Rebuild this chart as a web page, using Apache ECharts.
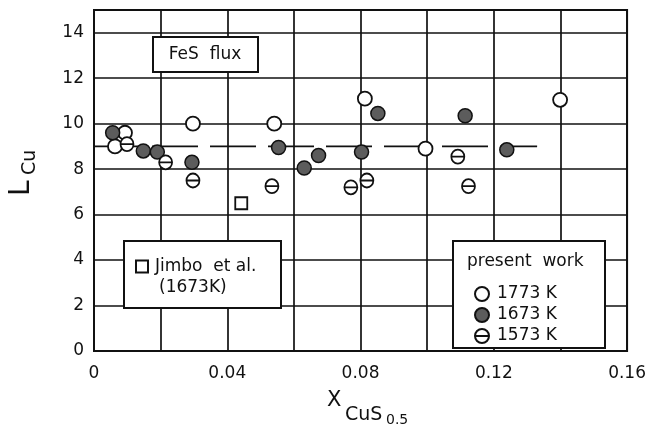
<!DOCTYPE html>
<html>
<head>
<meta charset="utf-8">
<script src="https://cdn.jsdelivr.net/npm/echarts@6/dist/echarts.min.js"></script>
<style>
  html, body { margin: 0; padding: 0; background: #fff; }
  #chart { width: 649px; height: 432px; }
</style>
</head>
<body>
<div id="chart"></div>
<script>
// present work, 1773 K (open circles)
var data1773 = [[0.0063, 9.0], [0.0093, 9.6], [0.0297, 10.0], [0.0541, 10.0], [0.0813, 11.1], [0.0995, 8.9], [0.1399, 11.05]]
// present work, 1673 K (filled circles)
var data1673 = [[0.0056, 9.6], [0.0148, 8.8], [0.019, 8.75], [0.0294, 8.3], [0.0554, 8.95], [0.0631, 8.05], [0.0674, 8.6], [0.0803, 8.75], [0.0852, 10.45], [0.1114, 10.35], [0.1239, 8.85]]
// present work, 1573 K (barred circles)
var data1573 = [[0.0099, 9.1], [0.0215, 8.3], [0.0297, 7.5], [0.0534, 7.25], [0.0771, 7.2], [0.0819, 7.5], [0.1092, 8.55], [0.1124, 7.25]]
// Jimbo et al. (1673 K)
var dataJimbo = [[0.0442, 6.5]]
// horizontal reference line at L = 9
var refLine = [[0, 9], [0.133, 9]]

var font = 'DejaVu Sans'
var barCircle = 'path://M10,0 A10,10 0 1,1 9.99,0 Z M0,10 L20,10'

var chart = echarts.init(document.getElementById('chart'))

var option = {
  backgroundColor: '#fff',
  animation: false,
  grid: {
    left: 94,
    right: 20,
    top: 10,
    bottom: 81,
    show: true,
    borderColor: '#111',
    borderWidth: 2
  },
  xAxis: {
    type: 'value',
    min: 0,
    max: 0.16,
    interval: 0.02,
    axisLine: { show: true, lineStyle: { color: '#111', width: 2 } },
    axisTick: { show: false },
    splitLine: { show: true, lineStyle: { color: '#111', width: 1.7 } },
    axisLabel: {
      color: '#111',
      fontFamily: font,
      fontSize: 17,
      margin: 14,
      formatter: function (v) {
        var k = Math.round(v / 0.02)
        if (k % 2 !== 0) return ''
        return k === 0 ? '0' : (k * 0.02).toFixed(2)
      }
    }
  },
  yAxis: {
    type: 'value',
    min: 0,
    max: 15,
    interval: 2,
    axisLine: { show: true, lineStyle: { color: '#111', width: 2 } },
    axisTick: { show: false },
    splitLine: { show: true, lineStyle: { color: '#111', width: 1.7 } },
    axisLabel: {
      color: '#111',
      fontFamily: font,
      fontSize: 17,
      margin: 10,
      showMaxLabel: false,
      formatter: function (v) { return v % 2 === 0 ? String(v) : '' }
    }
  },
  legend: [
    {
      data: ['1773 K', '1673 K', '1573 K'],
      orient: 'vertical',
      left: 469,
      top: 280,
      itemGap: 3,
      itemWidth: 14,
      itemHeight: 14,
      z: 20,
      textStyle: { color: '#111', fontFamily: font, fontSize: 17, lineHeight: 18, padding: [0, 0, 0, 3] }
    },
    {
      data: ['Jimbo  et al.'],
      left: 130,
      top: 253,
      itemWidth: 12,
      itemHeight: 12,
      z: 20,
      textStyle: { color: '#111', fontFamily: font, fontSize: 17, padding: [0, 0, 0, 2] }
    }
  ],
  graphic: [
    // FeS flux box
    { type: 'rect', z: 10, shape: { x: 153, y: 37, width: 105, height: 35 },
      style: { fill: '#fff', stroke: '#111', lineWidth: 2 } },
    { type: 'text', z: 11, style: { text: 'FeS  flux', x: 205, y: 55, fill: '#111',
      font: '17px "DejaVu Sans"', textAlign: 'center', textVerticalAlign: 'middle' } },
    // Jimbo box
    { type: 'rect', z: 10, shape: { x: 124, y: 241, width: 157, height: 67 },
      style: { fill: '#fff', stroke: '#111', lineWidth: 2 } },
    { type: 'text', z: 11, style: { text: '(1673K)', x: 159, y: 288, fill: '#111',
      font: '17px "DejaVu Sans"', textAlign: 'left', textVerticalAlign: 'middle' } },
    // present work box
    { type: 'rect', z: 10, shape: { x: 453, y: 241, width: 152, height: 107 },
      style: { fill: '#fff', stroke: '#111', lineWidth: 2 } },
    { type: 'text', z: 11, style: { text: 'present  work', x: 467, y: 262, fill: '#111',
      font: '17px "DejaVu Sans"', textAlign: 'left', textVerticalAlign: 'middle' } },
    // x axis title
    { type: 'text', z: 11, style: { text: 'X', x: 327, y: 401, fill: '#111',
      font: '21px "DejaVu Sans"', textAlign: 'left', textVerticalAlign: 'middle' } },
    { type: 'text', z: 11, style: { text: 'CuS', x: 345, y: 415, fill: '#111',
      font: '19px "DejaVu Sans"', textAlign: 'left', textVerticalAlign: 'middle' } },
    { type: 'text', z: 11, style: { text: '0.5', x: 386, y: 420, fill: '#111',
      font: '14px "DejaVu Sans"', textAlign: 'left', textVerticalAlign: 'middle' } },
    // y axis title
    { type: 'group', x: 22, y: 196, rotation: Math.PI / 2, z: 11,
      children: [
        { type: 'text', style: { text: 'L', x: 0, y: 0, fill: '#111',
          font: '28px "DejaVu Sans"', textAlign: 'left', textVerticalAlign: 'middle' } },
        { type: 'text', style: { text: 'Cu', x: 21, y: 8, fill: '#111',
          font: '19px "DejaVu Sans"', textAlign: 'left', textVerticalAlign: 'middle' } }
      ]
    }
  ],
  series: [
    {
      name: '1773 K',
      type: 'scatter',
      symbol: 'circle',
      symbolSize: 14,
      itemStyle: { color: '#fff', borderColor: '#111', borderWidth: 1.8, opacity: 1 },
      data: data1773,
      z: 5
    },
    {
      name: '1673 K',
      type: 'scatter',
      symbol: 'circle',
      symbolSize: 14,
      itemStyle: { color: '#5c5c5c', borderColor: '#111', borderWidth: 1.5, opacity: 1 },
      data: data1673,
      z: 5
    },
    {
      name: '1573 K',
      type: 'scatter',
      symbol: barCircle,
      symbolSize: [13, 14],
      itemStyle: { color: '#fff', borderColor: '#111', borderWidth: 1.8, opacity: 1 },
      data: data1573,
      z: 5
    },
    {
      name: 'Jimbo  et al.',
      type: 'scatter',
      symbol: 'rect',
      symbolSize: 12,
      itemStyle: { color: '#fff', borderColor: '#111', borderWidth: 1.8, opacity: 1 },
      data: dataJimbo,
      z: 5
    },
    {
      name: 'ref',
      type: 'line',
      data: refLine,
      symbol: 'none',
      lineStyle: { color: '#111', width: 1.7, type: [46, 12] },
      z: 3,
      silent: true
    }
  ]
}

chart.setOption(option)
</script>
</body>
</html>
